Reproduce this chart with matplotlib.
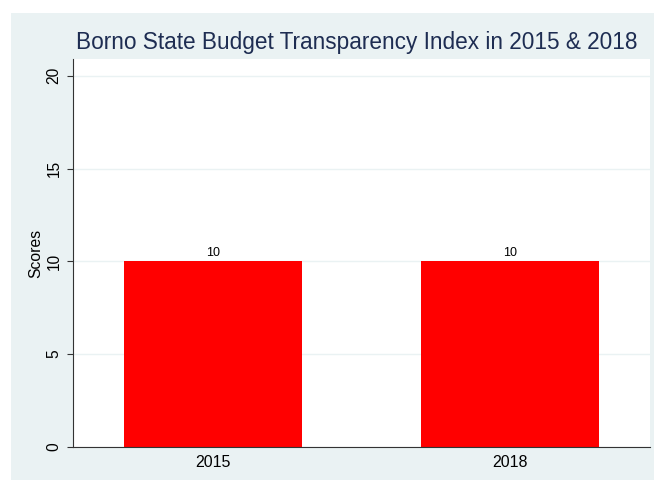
import numpy as np
import matplotlib.pyplot as plt
from matplotlib.patches import Rectangle

# data
years = ["2015", "2018"]
scores = [10, 10]
yticks = [0, 5, 10, 15, 20]

plt.rcParams['font.family'] = ['Liberation Sans', 'DejaVu Sans']

fig = plt.figure(figsize=(6.54, 4.8), dpi=100, facecolor="white")

# stata style light blue background box
fig.patches.append(Rectangle((11/654, 0), 1 - 11/654, 1 - 13/480,
                             transform=fig.transFigure, facecolor="#eaf2f3",
                             edgecolor="none", zorder=-5))

ax = fig.add_axes([73/654, 1 - 447/480, (650 - 73)/654, (447 - 59)/480])
ax.set_zorder(1)
ax.set_facecolor("white")

x = np.arange(len(years))
bars = ax.bar(x, scores, width=0.6, color="#ff0000", zorder=2)
for xi, v in zip(x, scores):
    ax.text(xi, v + 0.15, str(v), ha="center", va="bottom", fontsize=9, color="black")

ax.set_xlim(-0.47, 1.47)
ax.set_ylim(0, 20.9)
ax.set_xticks(x)
ax.set_xticklabels(years, fontsize=11.5)
ax.set_yticks(yticks)
ax.set_yticklabels([str(t) for t in yticks], fontsize=11.2, rotation=90, va="center")
ax.tick_params(axis="y", length=4.3, width=0.8, color="#333333", pad=4)
ax.tick_params(axis="x", length=0, pad=6)
ax.grid(axis="y", color="#eaf2f3", linewidth=1, zorder=0)
ax.set_axisbelow(True)

for s in ["top", "right"]:
    ax.spines[s].set_visible(False)
ax.spines["left"].set_color("#333333")
ax.spines["bottom"].set_color("#333333")

ax.set_ylabel("Scores", fontsize=11.3)
ax.yaxis.set_label_coords(-0.052, 0.5)

fig.text(357/654, 1 - 43/480, "Borno State Budget Transparency Index in 2015 & 2018",
         ha="center", va="center", fontsize=16.3, color="#1e2d52", zorder=3)

fig.savefig("out.png", dpi=100, facecolor="white")
